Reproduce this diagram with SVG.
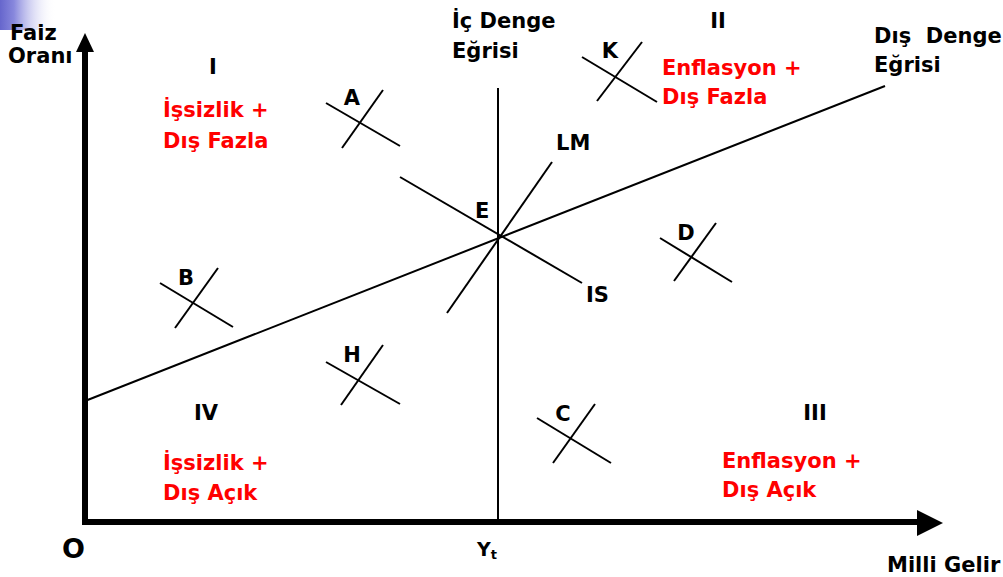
<svg xmlns="http://www.w3.org/2000/svg" width="1003" height="577" viewBox="0 0 1003 577">
<defs>
<linearGradient id="bg" x1="0" y1="0" x2="1" y2="0">
<stop offset="0" stop-color="#6666cc"/>
<stop offset="0.25" stop-color="#8888dd"/>
<stop offset="1" stop-color="#ffffff" stop-opacity="0"/>
</linearGradient>
</defs>
<style>
text{font-family:"DejaVu Sans","Verdana",sans-serif;font-weight:bold;font-size:21px;fill:#000}
.red{fill:#ff0000}
.ln{stroke:#000;stroke-width:2;fill:none}
.ax{stroke:#000;stroke-width:6;fill:none}
</style>
<rect width="1003" height="577" fill="#fff"/>
<rect x="0" y="0" width="56" height="30" fill="url(#bg)"/>
<g id="axes">
<line class="ax" x1="85" y1="48" x2="85" y2="525"/>
<line class="ax" x1="82" y1="522" x2="920" y2="522"/>
<polygon points="85,33 76,52 94,52" fill="#000"/>
<polygon points="943,523 917,510 917,536" fill="#000"/>
</g>
<g id="connectors">
<line class="ln" x1="85" y1="401" x2="885" y2="86"/>
<line class="ln" x1="498" y1="88" x2="498" y2="522"/>
<line class="ln" x1="447" y1="313" x2="552" y2="162"/>
<line class="ln" x1="400" y1="177" x2="582" y2="283"/>
</g>
<g id="markers">
<g id="mA"><line class="ln" x1="326" y1="103" x2="400" y2="146"/><line class="ln" x1="342" y1="148" x2="383" y2="90"/></g>
<g id="mB"><line class="ln" x1="160" y1="283" x2="233" y2="327"/><line class="ln" x1="175" y1="328" x2="218" y2="268"/></g>
<g id="mD"><line class="ln" x1="660" y1="238" x2="732" y2="282"/><line class="ln" x1="674" y1="281" x2="716" y2="223"/></g>
<g id="mH"><line class="ln" x1="326" y1="362" x2="400" y2="404"/><line class="ln" x1="341" y1="405" x2="383" y2="345"/></g>
<g id="mC"><line class="ln" x1="537" y1="418" x2="611" y2="463"/><line class="ln" x1="553" y1="463" x2="595" y2="404"/></g>
<g id="mK"><line class="ln" x1="582" y1="57" x2="657" y2="102"/><line class="ln" x1="597" y1="101" x2="642" y2="42"/></g>
</g>
<g id="labels">
<text x="10" y="40">Faiz</text>
<text x="8" y="63">Oranı</text>
<text x="213" y="74" text-anchor="middle">I</text>
<text class="red" x="163" y="117">İşsizlik +</text>
<text class="red" x="163" y="148">Dış Fazla</text>
<text x="452" y="28">İç Denge</text>
<text x="452" y="58">Eğrisi</text>
<text x="718" y="28" text-anchor="middle">II</text>
<text x="610" y="58" text-anchor="middle">K</text>
<text class="red" x="662" y="75">Enflasyon +</text>
<text class="red" x="662" y="104">Dış Fazla</text>
<text x="874" y="43" xml:space="preserve">Dış  Denge</text>
<text x="874" y="72">Eğrisi</text>
<text x="352" y="105" text-anchor="middle">A</text>
<text x="556" y="150">LM</text>
<text x="475" y="218">E</text>
<text x="686" y="240" text-anchor="middle">D</text>
<text x="186" y="285" text-anchor="middle">B</text>
<text x="586" y="302">IS</text>
<text x="352" y="362" text-anchor="middle">H</text>
<text x="206" y="420" text-anchor="middle">IV</text>
<text x="563" y="421" text-anchor="middle">C</text>
<text x="815" y="420" text-anchor="middle">III</text>
<text class="red" x="163" y="470">İşsizlik +</text>
<text class="red" x="163" y="500">Dış Açık</text>
<text class="red" x="722" y="468">Enflasyon +</text>
<text class="red" x="722" y="497">Dış Açık</text>
<text x="62" y="558" style="font-size:27px">O</text>
<text x="477" y="556" style="font-size:19px">Y<tspan style="font-size:13px" dy="3">t</tspan></text>
<text x="887" y="572">Milli Gelir</text>
</g>
</svg>
